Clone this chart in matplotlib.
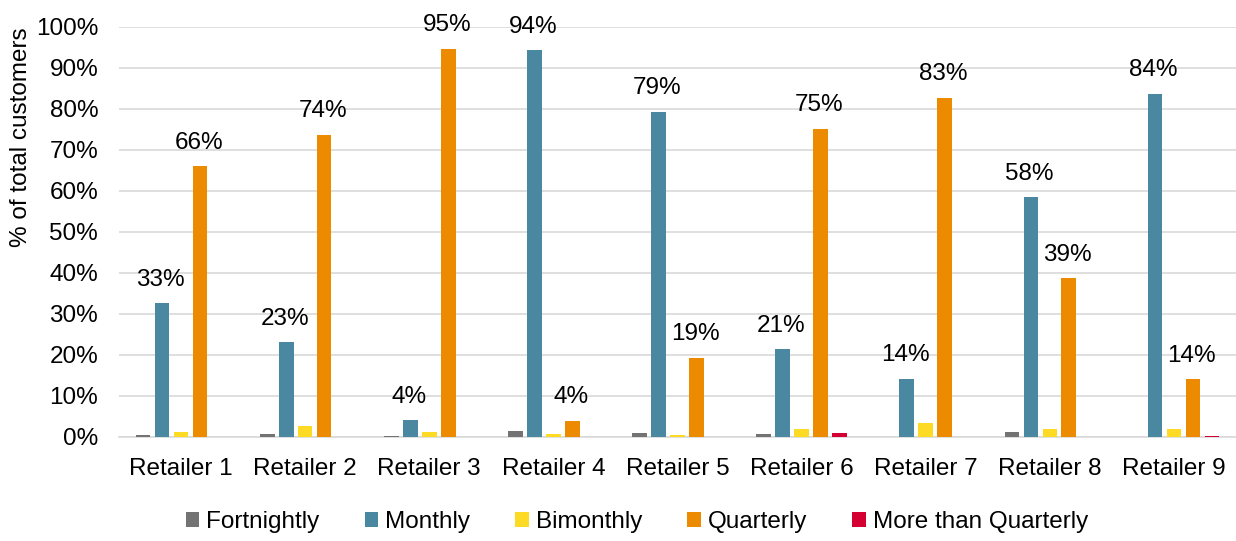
import matplotlib
matplotlib.use("Agg")
import matplotlib.pyplot as plt
import numpy as np

retailers = ["Retailer 1", "Retailer 2", "Retailer 3", "Retailer 4", "Retailer 5",
             "Retailer 6", "Retailer 7", "Retailer 8", "Retailer 9"]
fortnightly = [0.3, 0.7, 0.1, 1.3, 0.9, 0.7, 0.0, 1.1, 0.0]
monthly = [32.6, 23.0, 4.0, 94.2, 79.3, 21.3, 14.1, 58.4, 83.6]
bimonthly = [1.1, 2.6, 1.1, 0.6, 0.4, 2.0, 3.3, 2.0, 2.0]
quarterly = [66.0, 73.6, 94.6, 3.9, 19.3, 75.1, 82.7, 38.7, 14.0]
more_than_quarterly = [0.0, 0.0, 0.0, 0.0, 0.0, 0.8, 0.0, 0.0, 0.2]

series = [
    ("Fortnightly", fortnightly, "#737373", False),
    ("Monthly", monthly, "#4A88A2", True),
    ("Bimonthly", bimonthly, "#FDDA24", False),
    ("Quarterly", quarterly, "#ED8B00", True),
    ("More than Quarterly", more_than_quarterly, "#D50032", False),
]

plt.rcParams['font.family'] = ['Liberation Sans', 'DejaVu Sans']
fs = 17.5

fig = plt.figure(figsize=(12.36, 5.41), dpi=100)
ax = fig.add_axes([119/1236, 104.3/541, (1236-119)/1236, (436.7-26.7)/541])

x = np.arange(len(retailers))
step = 0.153
width = 0.118
for i, (name, vals, color, lab) in enumerate(series):
    pos = x + (i - 2) * step
    ax.bar(pos, vals, width=width, color=color, label=name, zorder=3)
    if lab:
        for p, v in zip(pos, vals):
            ax.annotate(f"{round(v)}%", (p, v), xytext=(-1, 9), textcoords="offset points",
                        ha="center", va="bottom", fontsize=fs, color="#000000")

ax.set_xlim(-0.5, len(retailers) - 0.5)
ax.set_ylim(0, 100)
ax.set_yticks(np.arange(0, 101, 10))
ax.set_yticklabels([f"{t}%" for t in range(0, 101, 10)], fontsize=fs)
ax.set_xticks(x)
ax.set_xticklabels(retailers, fontsize=fs)
ax.tick_params(axis='y', length=0, pad=15)
ax.tick_params(axis='x', length=0, pad=15)
ax.yaxis.grid(True, color="#D9D9D9", linewidth=1.2, zorder=0)
ax.set_axisbelow(True)
for s in ["top", "right", "left"]:
    ax.spines[s].set_visible(False)
ax.spines["bottom"].set_color("#D9D9D9")
ax.spines["bottom"].set_linewidth(1.2)

fig.text(21/1236, (541-137)/541, "% of total customers", rotation=90, fontsize=fs,
         ha="center", va="center")

ax.legend(loc="center", bbox_to_anchor=(637/1236, 19/541), bbox_transform=fig.transFigure,
          ncol=5, frameon=False, fontsize=fs, handlelength=0.55, handleheight=0.55,
          handletextpad=0.3, columnspacing=1.85, borderpad=0)

fig.savefig("out.png", dpi=100)
